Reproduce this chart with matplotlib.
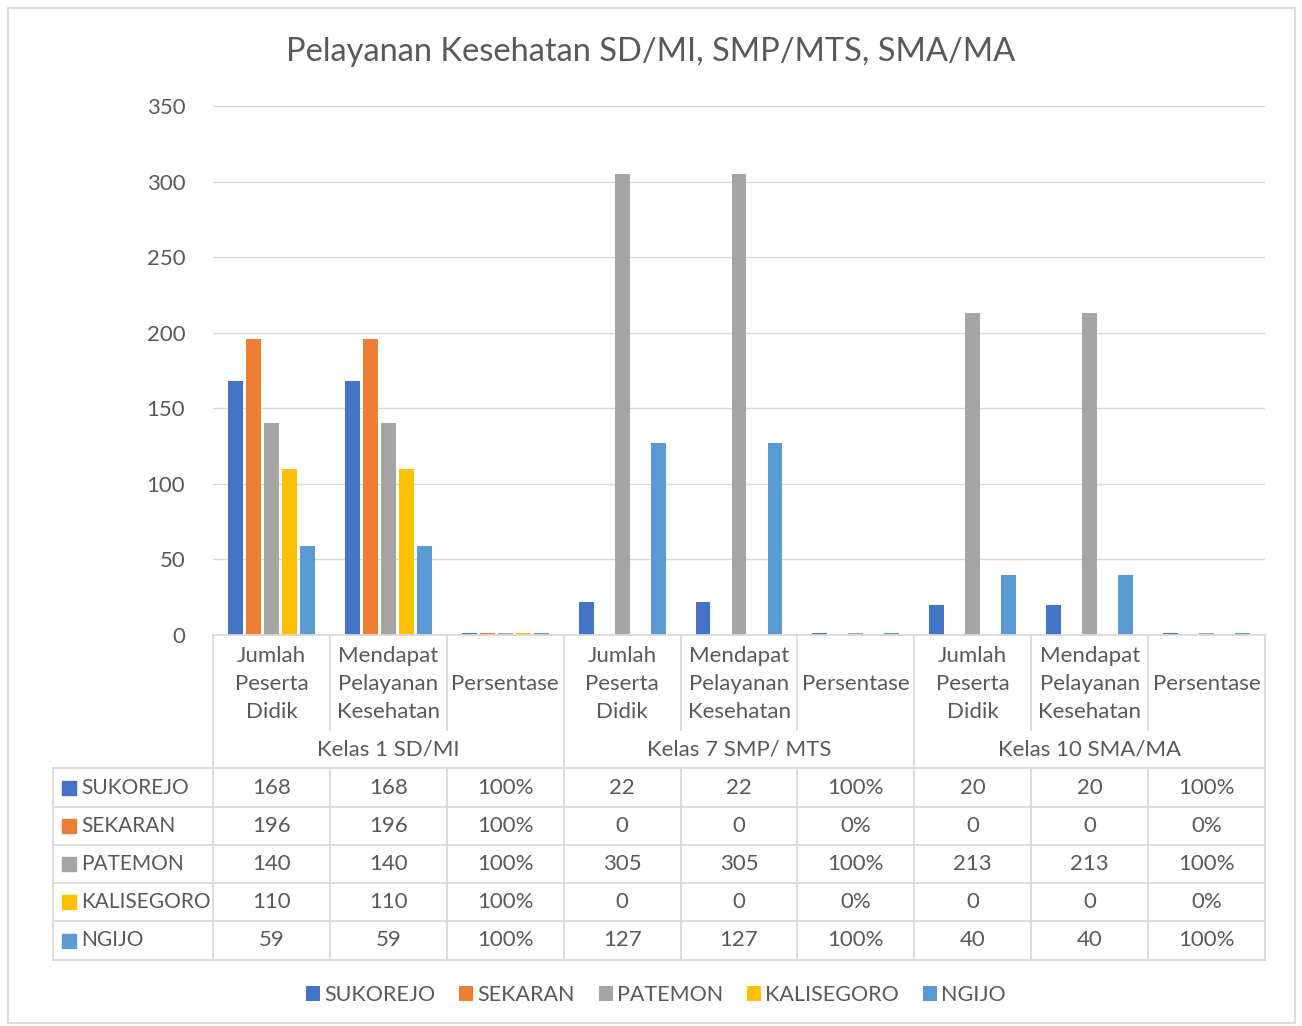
import matplotlib.pyplot as plt
from matplotlib.transforms import blended_transform_factory
from matplotlib.lines import Line2D
from matplotlib.patches import Rectangle
import numpy as np

plt.rcParams['font.family'] = ['Lato', 'DejaVu Sans']

###############################################################################
# DATA
###############################################################################
title = "Pelayanan Kesehatan SD/MI, SMP/MTS, SMA/MA"
groups = ["Kelas 1 SD/MI", "Kelas 7 SMP/ MTS", "Kelas 10 SMA/MA"]
subcats = ["Jumlah\nPeserta\nDidik", "Mendapat\nPelayanan\nKesehatan", "Persentase"]
series = ["SUKOREJO", "SEKARAN", "PATEMON", "KALISEGORO", "NGIJO"]
colors = ["#4472C4", "#ED7D31", "#A5A5A5", "#FFC000", "#5B9BD5"]

# persentase stored as fraction (1 = 100%)
sukorejo = [168, 168, 1, 22, 22, 1, 20, 20, 1]
sekaran = [196, 196, 1, 0, 0, 0, 0, 0, 0]
patemon = [140, 140, 1, 305, 305, 1, 213, 213, 1]
kalisegoro = [110, 110, 1, 0, 0, 0, 0, 0, 0]
ngijo = [59, 59, 1, 127, 127, 1, 40, 40, 1]
values = [sukorejo, sekaran, patemon, kalisegoro, ngijo]

yticks = [0, 50, 100, 150, 200, 250, 300, 350]

###############################################################################
W, H = 1302, 1026
fig = plt.figure(figsize=(W / 100, H / 100), dpi=100)

def fy(py):
    # pixel from top -> figure fraction
    return 1 - py / H

def fx(px):
    return px / W

ax = fig.add_axes([fx(213), fy(635), fx(1265) - fx(213), fy(106) - fy(635)])
ncat = len(sukorejo)
x = np.arange(ncat)
step = 0.154
bw = 0.128
for i, (name, vals) in enumerate(zip(series, values)):
    ax.bar(x + (i - 2) * step, vals, width=bw, color=colors[i], label=name, zorder=3)

ax.set_xlim(-0.5, ncat - 0.5)
ax.set_ylim(0, 350)
ax.set_yticks(yticks)
ax.set_xticks([])
ax.tick_params(axis='y', length=0, labelsize=16, labelcolor="#595959", pad=20)
ax.grid(axis='y', color="#D9D9D9", linewidth=1)
for s in ax.spines.values():
    s.set_visible(False)

fig.text(0.5, fy(52), title, ha='center', va='center', fontsize=23.5, color="#595959")

###############################################################################
# DATA TABLE
###############################################################################
tr = blended_transform_factory(ax.transData, fig.transFigure)
lc = "#D9D9D9"
tc = "#595959"
fs = 16

def vline(xd, y0, y1):
    fig.add_artist(Line2D([xd, xd], [fy(y0), fy(y1)], transform=tr, color=lc, lw=1.3))

def hline_px(x0, x1, y):
    fig.add_artist(Line2D([fx(x0), fx(x1)], [fy(y), fy(y)], color=lc, lw=1.3))

# header: category labels
for c in range(ncat):
    xb = c - 0.5
    if c % 3 == 0:
        vline(xb, 635, 960)
    else:
        vline(xb, 635, 730)
        vline(xb, 768, 960)
    fig.text(c, fy(684), subcats[c % 3], transform=tr, ha='center', va='center',
             fontsize=fs, color=tc, linespacing=1.5)
vline(ncat - 0.5, 635, 960)

for g, name in enumerate(groups):
    fig.text(g * 3 + 1, fy(749), name, transform=tr, ha='center', va='center',
             fontsize=fs, color=tc)

hline_px(213, 1265, 635)
row_y = [768, 807, 845, 883, 921, 960]
for y in row_y:
    hline_px(53, 1265, y)
fig.add_artist(Line2D([fx(53), fx(53)], [fy(768), fy(960)], color=lc, lw=1.3))

def fmt(v, c):
    if c % 3 == 2:
        return "%d%%" % round(v * 100)
    return str(v)

for r, (name, vals) in enumerate(zip(series, values)):
    yc = (row_y[r] + row_y[r + 1]) / 2
    fig.add_artist(Rectangle((fx(62), fy(yc + 7)), fx(14), fy(yc - 7) - fy(yc + 7),
                             color=colors[r]))
    fig.text(fx(81), fy(yc), name, ha='left', va='center', fontsize=15, color=tc)
    for c in range(ncat):
        fig.text(c, fy(yc), fmt(vals[c], c), transform=tr, ha='center', va='center',
                 fontsize=fs, color=tc)

# legend
leg = fig.legend(loc='center', bbox_to_anchor=(fx(656), fy(995)), ncol=5, frameon=False,
                 fontsize=15.5, handlelength=0.65, handleheight=0.65, handletextpad=0.2,
                 columnspacing=1.1, labelcolor=tc)

# outer chart border
fig.add_artist(Rectangle((fx(8), fy(1023)), fx(1295) - fx(8), fy(8) - fy(1023),
                         fill=False, edgecolor=lc, lw=1.3))

plt.savefig("out.png", dpi=100)
